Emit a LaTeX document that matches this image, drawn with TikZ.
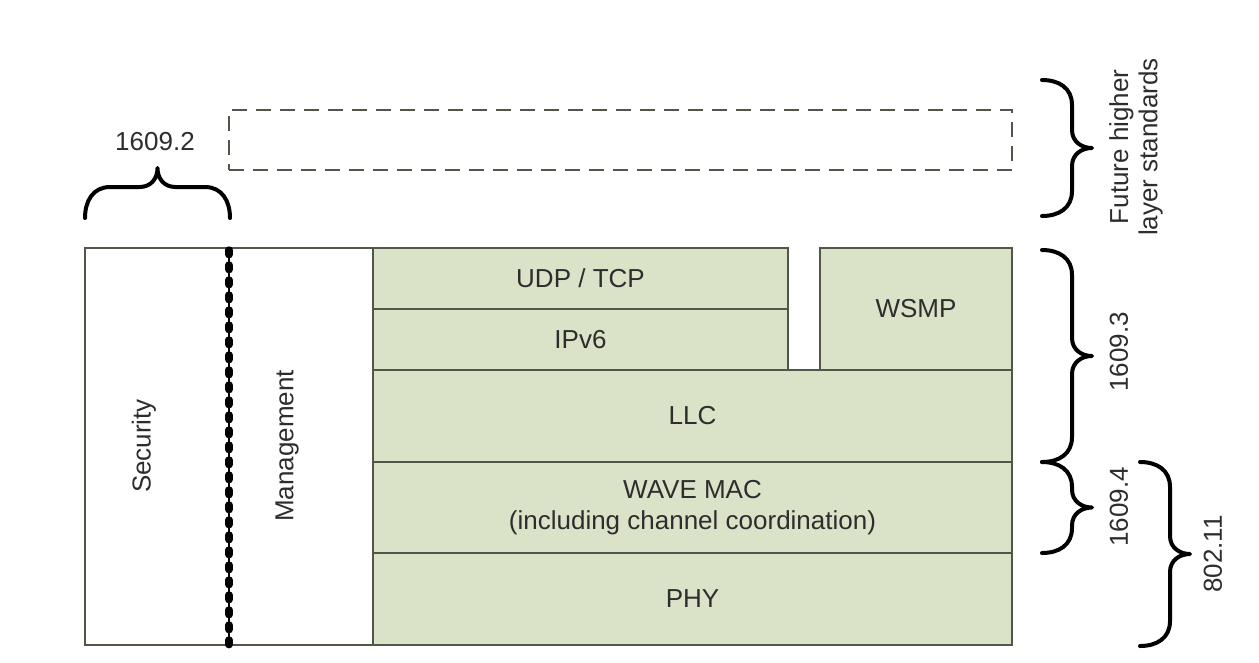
\documentclass[tikz,border=0pt]{standalone}
\usepackage{fontspec}
\setmainfont{Liberation Sans}
\definecolor{layergreen}{RGB}{218,226,200}
\definecolor{layerborder}{RGB}{80,86,72}
\definecolor{txt}{RGB}{45,45,45}
\tikzset{
  box/.style={draw=layerborder, line width=1.4pt, inner sep=0pt, outer sep=0pt, text=txt, font=\fontsize{19.5}{22}\selectfont},
  gbox/.style={box, fill=layergreen},
  wbox/.style={box, fill=white},
  lbl/.style={text=txt, font=\fontsize{19.5}{22}\selectfont, inner sep=0pt},
  brc/.style={line width=3pt, black, line cap=round, line join=round},
  dotline/.style={line width=5.5pt, line cap=round, dash pattern=on 3.5pt off 7.75pt, black}
}
% vertical brace pointing right: x, y1, y2
\newcommand\myvbrace[3]{%
  \pgfmathsetmacro\ymid{(#2+#3)/2}%
  \draw[brc] (#1,#2) .. controls (#1+17,#2) and (#1+30,#2+8) .. (#1+30,#2+25)
    -- (#1+30,\ymid-18) .. controls (#1+30,\ymid-6) and (#1+40,\ymid) .. (#1+50,\ymid)
    .. controls (#1+40,\ymid) and (#1+30,\ymid+6) .. (#1+30,\ymid+18)
    -- (#1+30,#3-25) .. controls (#1+30,#3-8) and (#1+17,#3) .. (#1,#3);}
% horizontal brace pointing up: x1, x2, y
\newcommand\myhbrace[3]{%
  \pgfmathsetmacro\xmid{(#1+#2)/2}%
  \draw[brc] (#1,#3) .. controls (#1,#3-17) and (#1+8,#3-31) .. (#1+25,#3-31)
    -- (\xmid-18,#3-31) .. controls (\xmid-6,#3-31) and (\xmid,#3-40) .. (\xmid,#3-50)
    .. controls (\xmid,#3-40) and (\xmid+6,#3-31) .. (\xmid+18,#3-31)
    -- (#2-25,#3-31) .. controls (#2-8,#3-31) and (#2,#3-17) .. (#2,#3);}
\begin{document}
\begin{tikzpicture}[x=0.75pt, y=-0.75pt]
\useasboundingbox (0,0) rectangle (1259,662);
% future dashed box
\node[box, dashed, dash pattern=on 11pt off 7pt, line width=1.5pt, minimum width=587.25pt, minimum height=45pt] (future) at (620.5,140) {};
% left boxes
\node[wbox, minimum width=108pt, minimum height=297.75pt] (sec) at (157,446.5) {};
\node[wbox, minimum width=108pt, minimum height=297.75pt] (mgmt) at (301,446.5) {};
\node[lbl, rotate=90] (sectxt) at (144,446) {Security};
\node[lbl, rotate=90] (mgmttxt) at (287,446) {Management};
% green layers
\node[gbox, minimum width=311.25pt, minimum height=45.75pt] (udp) at (580.5,278.5) {UDP / TCP};
\node[gbox, minimum width=311.25pt, minimum height=45.75pt] (ipv6) at (580.5,339.5) {IPv6};
\node[gbox, minimum width=144pt, minimum height=91.5pt] (wsmp) at (916,309) {WSMP};
\node[gbox, minimum width=479.25pt, minimum height=69pt] (llc) at (692.5,416) {LLC};
\node[gbox, minimum width=479.25pt, minimum height=68.25pt, align=center] (mac) at (692.5,507.5) {WAVE MAC\\[1pt](including channel coordination)};
\node[gbox, minimum width=479.25pt, minimum height=69pt] (phy) at (692.5,599) {PHY};
% dotted security boundary
\coordinate (dtop) at (229,250);
\coordinate (dbot) at (229,645);
\draw[line width=1.2pt, black] (dtop) -- (dbot);
\draw[dotline] (dtop) -- (dbot);
% brace 1609.2
\myhbrace{85}{230}{218}
\node[lbl] (l2) at (155,142) {1609.2};
% right braces
\myvbrace{1042}{80}{216}
\node[lbl, rotate=90, align=center] (lf) at (1136,147) {Future higher\\layer standards};
\myvbrace{1042}{250}{462}
\node[lbl, rotate=90] (l3) at (1119,352) {1609.3};
\myvbrace{1042}{462}{553}
\node[lbl, rotate=90] (l4) at (1119,507) {1609.4};
\myvbrace{1140}{462}{646}
\node[lbl, rotate=90] (l8) at (1213,554) {802.11};
\end{tikzpicture}
\end{document}
